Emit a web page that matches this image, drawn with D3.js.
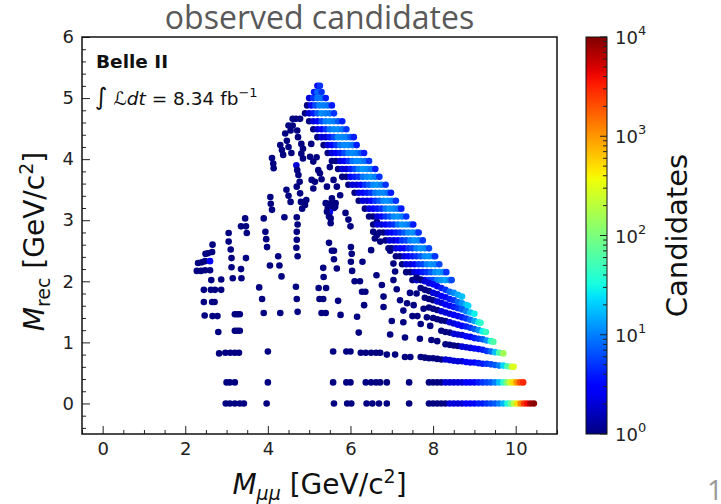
<!DOCTYPE html>
<html>
<head>
<meta charset="utf-8">
<script src="https://cdn.jsdelivr.net/npm/d3@7"></script>
<style>
  body { margin: 0; background: #fff; }
  svg { display: block; }
</style>
</head>
<body>
<svg id="chart" width="721" height="504"></svg>
<script>
// tick values
var xTicks = [0, 2, 4, 6, 8, 10];
var yTicks = [0, 1, 2, 3, 4, 5, 6];
var cbExponents = [0, 1, 2, 3, 4];

// isolated candidates [M_mumu, M_rec, count]
var isolated = [
  [2.31,2.30,1],[2.40,2.31,1],[2.48,2.33,1],[2.60,2.33,3],
  [2.28,2.17,1],[2.38,2.17,1],[2.48,2.18,1],[2.60,2.18,1],
  [2.49,2.45,1],[2.55,2.46,1],[2.65,2.48,1],[2.66,2.60,1],[2.63,2.02,1],
  [2.45,1.86,1],[2.62,1.86,1],[2.72,1.86,1],
  [2.45,1.66,1],[2.65,1.66,1],[2.71,1.66,1],
  [2.47,1.44,1],[2.66,1.43,1],[2.78,1.43,1],[2.80,1.17,1],
  [2.82,0.82,1],[2.97,0.83,1],[3.09,0.83,1],
  [3.00,0.345,1],[3.08,0.345,1],[3.20,0.345,1],
  [2.98,0,1],[3.08,0,1],[3.20,0,1],[3.32,0,1],[3.42,0,1],
  [2.87,2.03,1],[2.87,1.86,1],
  [3.05,2.79,1],[3.05,2.65,1],[3.10,2.52,1],[3.12,2.38,1],[3.12,2.23,1],[3.15,2.05,1],
  [3.35,2.90,1],[3.47,2.90,1],[3.45,3.03,1],[3.49,2.79,1],
  [3.35,2.20,1],[3.36,2.05,1],[3.47,2.38,1],
  [3.20,1.46,1],[3.26,1.46,1],[3.32,1.46,1],
  [3.20,1.19,1],[3.26,1.19,1],[3.32,1.19,1],
  [3.20,0.83,1],[3.30,0.83,1],
  [3.90,3.03,1],[3.94,2.81,1],[3.96,2.69,1],[3.98,2.56,1],
  [4.05,2.26,1],[4.28,2.26,1],[4.33,2.08,1],[4.25,2.41,1],
  [3.79,1.90,1],[3.86,1.71,1],[3.90,1.48,1],[4.30,1.48,1],
  [4.00,0.85,1],[4.00,0.345,1],[3.97,0,1],
  [4.06,3.38,1],[4.07,3.27,1],[4.10,3.17,1],
  [4.70,3.05,1],[4.72,2.93,1],[4.70,2.81,1],[4.70,2.68,1],[4.69,2.55,1],[4.72,2.41,1],
  [4.90,3.25,1],[4.93,3.33,1],
  [4.68,1.91,1],[4.70,1.71,1],[4.72,1.50,1],
  [5.40,3.28,1],[5.54,3.28,1],[5.64,3.28,1],[5.45,3.20,1],[5.60,3.20,1],[5.50,3.13,3],[5.52,3.03,1],
  [5.48,2.63,1],[5.55,2.50,1],[5.60,2.50,1],[5.60,2.36,1],[5.67,2.21,1],[5.34,2.22,1],
  [5.35,2.07,1],[5.41,1.89,1],[5.23,1.89,1],[5.25,1.71,1],[5.34,1.71,1],
  [5.30,1.48,1],[5.40,1.48,1],[5.70,1.68,1],[5.76,1.45,1],
  [5.58,0.85,1],[5.58,0.345,1],[5.60,0,1],
  [5.90,0.85,1],[6.00,0.85,1],[5.90,0.345,1],[6.00,0.345,1],[5.92,0,1],[6.02,0,1],
  [6.25,0.83,1],[6.37,0.83,1],[6.50,0.83,1],[6.62,0.83,1],[6.72,0.83,1],
  [6.88,0.80,1],[7.08,0.80,1],[7.32,0.76,1],[7.45,0.76,1],
  [6.37,0.345,1],[6.50,0.345,1],[6.62,0.345,1],[6.72,0.345,1],[6.88,0.345,1],[7.42,0.345,1],
  [6.39,0,1],[6.53,0,1],[6.69,0,1],[6.88,0,1],[7.42,0,1],
  [5.88,3.12,1],[5.95,3.01,1],[6.00,2.90,1],
  [6.01,2.56,1],[6.03,2.45,1],[6.01,2.32,1],[6.04,2.17,1],[6.10,2.00,1],[6.23,2.00,1],
  [6.28,1.83,1],[6.36,1.83,1],[6.33,1.61,1],[6.16,1.42,1],[6.20,1.16,1],
  [6.55,2.81,1],[6.64,2.76,1],[6.64,2.97,1],[6.63,2.10,1],
  [7.08,2.16,1],[7.04,2.02,1],[6.76,1.94,1],[7.12,1.87,1],[6.80,1.75,1],[7.20,1.69,1],
  [7.44,1.81,1],[7.60,1.80,1],[6.80,1.58,1],[7.28,1.52,1],[7.37,1.64,1],[7.53,1.61,1],
  [7.77,1.55,1],[7.50,1.43,1],[7.62,1.43,1],[7.85,1.41,1],
  [7.00,1.35,1],[7.28,1.33,1],[7.70,1.30,1],[7.93,1.27,1],
  [6.96,1.13,1],[7.32,1.08,1],[7.68,1.06,1],[7.96,1.04,1],[8.10,1.02,1],
  [6.50,2.51,1],[6.96,2.50,1],[6.29,2.32,1],[6.59,2.70,1],[6.72,2.65,1],[6.92,2.54,1],[7.04,2.29,1],
  [5.05,4.25,1],[5.18,4.03,1],
  [5.10,3.96,1],[5.22,3.82,1],[5.30,3.67,1],[5.06,3.66,1],[5.10,3.52,1],[5.50,3.87,1],
  [5.59,3.66,1],[5.67,3.55,1],[5.75,3.41,1],[5.55,3.36,1],[5.63,3.22,1],[5.48,3.06,1],[5.52,2.95,1],
  [4.60,4.66,1],[4.68,4.66,1],[4.78,4.66,1],[4.50,4.55,1],[4.60,4.55,1],
  [4.55,4.47,1],[4.71,4.47,1],[4.42,4.42,1],[4.46,4.30,1],[4.50,4.20,1],[4.57,4.10,1],
  [4.30,4.23,1],[4.34,4.15,1],[4.37,4.07,1],[4.10,4.02,1],[4.13,3.93,1],[4.14,3.85,1],
  [4.73,4.36,1],[4.81,4.25,1],[4.85,4.17,1],[4.81,4.09,1],[4.85,4.01,1],
  [4.69,3.90,2],[4.71,3.82,1],[4.74,3.74,1],[4.77,3.63,1],
  [5.02,4.04,1],[5.26,3.77,1],[5.14,3.63,1],[5.43,3.55,1],[5.47,3.27,1],[5.43,3.14,1],
  [4.78,3.44,1],[4.80,3.30,1],[4.83,3.19,1],[4.70,3.55,1],
  [4.45,3.50,1],[4.50,3.40,1],[4.55,3.30,1],[4.40,3.05,1]
];

// dense band along the kinematic edge, row by row
var bandRows = [
  {y: 5.20, x: [5.20,5.26], n: [3,5]},
  {y: 5.10, x: [5.12,5.20,5.30], n: [4,8,5]},
  {y: 5.00, x: [5.00,5.10,5.20,5.30,5.40], n: [2,5,9,9,4]},
  {y: 4.88, x: [4.95,5.05,5.15,5.25,5.35,5.45,5.55], n: [1,3,6,10,10,9,4]},
  {y: 4.75, x: [4.90,5.00,5.10,5.20,5.30,5.40,5.50,5.60], n: [1,2,4,7,11,10,9,5]},
  {y: 4.62, x: [5.00,5.10,5.20,5.30,5.40,5.50,5.60,5.70,5.80], n: [1,2,3,6,10,11,10,7,4]},
  {y: 4.49, x: [5.10,5.20,5.30,5.40,5.50,5.60,5.70,5.80,5.90], n: [1,2,3,5,9,11,11,9,5]},
  {y: 4.36, x: [5.20,5.30,5.40,5.50,5.60,5.70,5.80,5.90,6.00,6.08], n: [1,2,2,4,6,11,11,10,7,4]},
  {y: 4.23, x: [5.35,5.45,5.55,5.65,5.75,5.85,5.95,6.05,6.15], n: [1,2,3,5,9,11,11,9,4]},
  {y: 4.10, x: [5.45,5.55,5.65,5.75,5.85,5.95,6.05,6.15,6.25,6.33], n: [1,2,3,4,6,10,11,10,7,4]},
  {y: 3.97, x: [5.55,5.65,5.75,5.85,5.95,6.05,6.15,6.25,6.35,6.45], n: [1,1,2,3,5,9,11,11,9,5]},
  {y: 3.84, x: [5.70,5.80,5.90,6.00,6.10,6.20,6.30,6.40,6.50,6.60], n: [1,2,2,4,6,10,12,11,9,4]},
  {y: 3.71, x: [5.80,5.90,6.00,6.10,6.20,6.30,6.40,6.50,6.60,6.70], n: [1,1,3,4,5,9,11,12,10,5]},
  {y: 3.58, x: [5.95,6.05,6.15,6.25,6.35,6.45,6.55,6.65,6.75,6.85], n: [1,2,2,3,5,7,11,12,10,5]},
  {y: 3.45, x: [6.10,6.20,6.30,6.40,6.50,6.60,6.70,6.80,6.90,6.98], n: [1,2,3,4,5,9,11,11,9,4]},
  {y: 3.32, x: [6.20,6.30,6.40,6.50,6.60,6.70,6.80,6.90,7.00,7.10], n: [1,2,2,3,5,7,11,12,10,5]},
  {y: 3.19, x: [6.35,6.45,6.55,6.65,6.75,6.85,6.95,7.05,7.15,7.23], n: [1,2,3,4,5,9,12,11,9,4]},
  {y: 3.06, x: [6.45,6.55,6.65,6.75,6.85,6.95,7.05,7.15,7.25,7.35], n: [1,1,2,3,5,7,11,12,10,5]},
  {y: 2.93, x: [6.55,6.65,6.75,6.85,6.95,7.05,7.15,7.25,7.35,7.45,7.52], n: [1,2,2,3,4,5,9,12,11,9,4]},
  {y: 2.80, x: [6.70,6.80,6.90,7.00,7.10,7.20,7.30,7.40,7.50,7.60,7.65], n: [1,1,2,3,4,5,7,11,12,10,5]},
  {y: 2.67, x: [6.85,6.95,7.05,7.15,7.25,7.35,7.45,7.55,7.65,7.75], n: [1,2,2,3,5,6,10,12,11,5]},
  {y: 2.54, x: [7.00,7.10,7.20,7.30,7.40,7.50,7.60,7.70,7.80,7.90], n: [1,2,3,3,5,6,10,12,11,6]},
  {y: 2.41, x: [7.10,7.20,7.30,7.40,7.50,7.60,7.70,7.80,7.90,8.00,8.05], n: [1,1,2,3,4,5,7,11,12,10,5]},
  {y: 2.28, x: [7.25,7.35,7.45,7.55,7.65,7.75,7.85,7.95,8.05,8.15], n: [1,2,2,3,5,6,10,12,11,6]},
  {y: 2.15, x: [7.35,7.45,7.55,7.65,7.75,7.85,7.95,8.05,8.15,8.25,8.32], n: [1,1,2,3,4,5,7,11,13,11,5]},
  {y: 2.02, x: [7.50,7.60,7.70,7.80,7.90,8.00,8.10,8.20,8.30,8.40,8.45], n: [1,2,2,3,5,6,10,12,14,11,6]}
];

// sloping stripes below the band, [M_mumu, M_rec, count]
var stripes = [
  [[7.6,2.06,1],[7.7,2.03,1],[7.8,2.00,2],[7.9,1.97,2],[8.0,1.95,3],[8.1,1.92,3],[8.2,1.89,4],[8.3,1.86,5],[8.4,1.83,8],[8.5,1.81,11],[8.6,1.78,15],[8.7,1.75,18]],
  [[7.7,1.89,1],[7.8,1.86,1],[7.9,1.84,1],[8.0,1.81,2],[8.1,1.79,2],[8.2,1.76,3],[8.3,1.74,3],[8.4,1.71,4],[8.5,1.69,5],[8.6,1.66,8],[8.7,1.64,12],[8.8,1.61,18],[8.85,1.60,22]],
  [[7.8,1.73,1],[7.9,1.71,1],[8.0,1.69,1],[8.1,1.67,2],[8.2,1.65,2],[8.3,1.62,3],[8.4,1.60,3],[8.5,1.58,4],[8.6,1.56,5],[8.7,1.54,7],[8.8,1.51,10],[8.9,1.49,18],[9.0,1.47,28]],
  [[7.9,1.57,1],[8.0,1.55,1],[8.1,1.53,1],[8.2,1.51,2],[8.3,1.49,2],[8.4,1.47,2],[8.5,1.45,3],[8.6,1.43,3],[8.7,1.41,4],[8.8,1.39,5],[8.9,1.37,8],[9.0,1.35,14],[9.1,1.33,28],[9.15,1.32,40]],
  [[8.0,1.40,1],[8.1,1.38,1],[8.2,1.36,1],[8.3,1.35,1],[8.4,1.33,2],[8.5,1.31,2],[8.6,1.29,3],[8.7,1.27,3],[8.8,1.26,4],[8.9,1.24,5],[9.0,1.22,7],[9.1,1.20,12],[9.2,1.18,28],[9.28,1.17,45]],
  [[8.2,1.19,1],[8.3,1.17,1],[8.4,1.16,1],[8.5,1.14,2],[8.6,1.13,2],[8.7,1.12,2],[8.8,1.10,3],[8.9,1.09,3],[9.0,1.07,4],[9.1,1.06,5],[9.2,1.05,7],[9.3,1.03,12],[9.4,1.02,35],[9.46,1.01,60]],
  [[8.3,0.97,1],[8.4,0.96,1],[8.5,0.95,1],[8.6,0.94,1],[8.7,0.93,2],[8.8,0.92,2],[8.9,0.91,2],[9.0,0.90,3],[9.1,0.89,3],[9.2,0.88,4],[9.3,0.86,5],[9.4,0.85,8],[9.5,0.84,18],[9.6,0.83,60],[9.7,0.82,150]],
  [[7.7,0.76,1],[7.8,0.75,1],[7.9,0.74,1],[8.0,0.74,1],[8.1,0.73,1],[8.2,0.72,1],[8.3,0.72,2],[8.4,0.71,2],[8.5,0.70,2],[8.6,0.69,2],[8.7,0.69,2],[8.8,0.68,3],[8.9,0.67,3],[9.0,0.67,3],[9.1,0.66,4],[9.2,0.65,4],[9.3,0.65,5],[9.4,0.64,6],[9.5,0.63,7],[9.6,0.62,10],[9.7,0.62,22],[9.8,0.61,60],[9.9,0.60,200],[9.95,0.60,300]]
];

// the two flat rows at the bottom
var floorRows = [
  {y: 0.345,
   x: [7.90,8.00,8.10,8.20,8.30,8.40,8.50,8.60,8.70,8.80,8.90,9.00,9.10,9.20,9.30,9.40,9.50,9.60,9.70,9.78,9.86,9.94,10.02,10.10,10.18],
   n: [1,1,1,1,2,2,2,2,2,3,3,3,4,5,6,7,10,18,40,100,250,500,1000,2000,3000]},
  {y: 0,
   x: [7.90,8.00,8.10,8.20,8.30,8.40,8.50,8.60,8.70,8.80,8.90,9.00,9.10,9.20,9.30,9.40,9.50,9.60,9.70,9.80,9.88,9.96,10.04,10.12,10.20,10.28,10.36,10.44],
   n: [1,1,1,1,1,2,2,2,2,3,3,3,4,4,5,6,7,10,16,35,80,200,500,1200,2500,4000,7000,9000]}
];

function draw() {
    var svg = d3.select("#chart");
    var W = 721, H = 504;
    svg.append("rect").attr("width", W).attr("height", H).attr("fill", "#fff");

    var left = 82, right = 557, plotTop = 37, bottom = 434;
    var x = d3.scaleLinear().domain([-0.5, 11]).range([left, right]);
    var y = d3.scaleLinear().domain([-0.5, 6]).range([bottom, plotTop]);

    // matplotlib jet
    var jr = d3.scaleLinear().domain([0, 0.35, 0.66, 0.89, 1]).range([0, 0, 1, 1, 0.5]).clamp(true);
    var jg = d3.scaleLinear().domain([0, 0.125, 0.375, 0.64, 0.91, 1]).range([0, 0, 1, 1, 0, 0]).clamp(true);
    var jb = d3.scaleLinear().domain([0, 0.11, 0.34, 0.65, 1]).range([0.5, 1, 1, 0, 0]).clamp(true);
    function jet(t) {
        return d3.rgb(jr(t) * 255, jg(t) * 255, jb(t) * 255).formatHex();
    }
    var logT = d3.scaleLog().domain([1, 1e4]).range([0, 1]).clamp(true);
    function color(n) { return jet(logT(n)); }

    // flatten everything in drawing order
    var pts = isolated.slice();
    bandRows.forEach(function(r) {
        r.x.forEach(function(v, i) { pts.push([v, r.y, r.n[i]]); });
    });
    stripes.forEach(function(s) { pts = pts.concat(s); });
    floorRows.forEach(function(r) {
        r.x.forEach(function(v, i) { pts.push([v, r.y, r.n[i]]); });
    });

    svg.append("g").selectAll("circle")
        .data(pts)
        .enter().append("circle")
        .attr("cx", function(d) { return x(d[0]); })
        .attr("cy", function(d) { return y(d[1]); })
        .attr("r", 3.3)
        .attr("fill", function(d) { return color(d[2]); });

    // axes, ticks inside
    var tickFont = "'DejaVu Sans', sans-serif";
    function styleAxis(sel) {
        sel.select(".domain").remove();
        sel.selectAll("line").attr("stroke", "#222").attr("stroke-width", 1);
        sel.selectAll("text").attr("font-family", tickFont).attr("font-size", 18).attr("fill", "#222");
    }
    var xMinor = d3.range(-1, 23).map(function(i) { return i * 0.5; })
        .filter(function(v) { return v % 2 !== 0 && v >= -0.5 && v <= 11; });
    var yMinor = d3.range(-2, 31).map(function(i) { return +(i * 0.2).toFixed(1); })
        .filter(function(v) { return Math.abs(v - Math.round(v)) > 0.01 && v >= -0.5; });

    svg.append("g").attr("transform", "translate(0," + bottom + ")")
        .call(d3.axisBottom(x).tickValues(xTicks).tickSize(-8).tickPadding(8).tickFormat(d3.format("d")))
        .call(styleAxis);
    svg.append("g").attr("transform", "translate(0," + bottom + ")")
        .call(d3.axisBottom(x).tickValues(xMinor).tickSize(-4).tickFormat(""))
        .call(styleAxis);
    svg.append("g").attr("transform", "translate(" + left + ",0)")
        .call(d3.axisLeft(y).tickValues(yTicks).tickSize(-8).tickPadding(8).tickFormat(d3.format("d")))
        .call(styleAxis);
    svg.append("g").attr("transform", "translate(" + left + ",0)")
        .call(d3.axisLeft(y).tickValues(yMinor).tickSize(-4).tickFormat(""))
        .call(styleAxis);

    svg.append("rect")
        .attr("x", left).attr("y", plotTop)
        .attr("width", right - left).attr("height", bottom - plotTop)
        .attr("fill", "none").attr("stroke", "#111").attr("stroke-width", 1.5);

    // labels inside plot
    svg.append("text")
        .attr("x", 96).attr("y", 68)
        .attr("font-family", tickFont).attr("font-weight", "bold").attr("font-size", 18.5)
        .attr("fill", "#111")
        .text("Belle II");

    var lum = svg.append("text")
        .attr("x", 95).attr("y", 105)
        .attr("font-family", tickFont).attr("font-size", 18.5).attr("fill", "#111");
    lum.append("tspan").attr("font-size", 24).text("\u222B");
    lum.append("tspan").attr("dx", 6).attr("font-style", "italic").text("\u2112dt");
    lum.append("tspan").text(" = 8.34 fb");
    lum.append("tspan").attr("font-size", 13).attr("dy", -8).text("\u22121");

    // title
    svg.append("text")
        .attr("x", (left + right) / 2).attr("y", 29)
        .attr("text-anchor", "middle")
        .attr("font-family", "'Open Sans', sans-serif").attr("font-size", 32)
        .attr("fill", "#595959")
        .text("observed candidates");

    // axis titles
    var labFont = "'DejaVu Sans', sans-serif";
    var xl = svg.append("text")
        .attr("x", (left + right) / 2).attr("y", 494)
        .attr("text-anchor", "middle")
        .attr("font-family", labFont).attr("font-size", 28).attr("fill", "#111");
    xl.append("tspan").attr("font-style", "italic").text("M");
    xl.append("tspan").attr("font-style", "italic").attr("font-size", 19).attr("dy", 6).text("\u03BC\u03BC");
    xl.append("tspan").attr("dy", -6).text(" [GeV/c");
    xl.append("tspan").attr("font-size", 19).attr("dy", -11).text("2");
    xl.append("tspan").attr("dy", 11).text("]");

    var yl = svg.append("text")
        .attr("transform", "translate(44," + ((plotTop + bottom) / 2 + 6) + ") rotate(-90)")
        .attr("text-anchor", "middle")
        .attr("font-family", labFont).attr("font-size", 28).attr("fill", "#111");
    yl.append("tspan").attr("font-style", "italic").text("M");
    yl.append("tspan").attr("font-size", 19).attr("dy", 6).text("rec");
    yl.append("tspan").attr("dy", -6).text(" [GeV/c");
    yl.append("tspan").attr("font-size", 19).attr("dy", -11).text("2");
    yl.append("tspan").attr("dy", 11).text("]");

    // colour bar
    var cbX = 586, cbW = 21;
    var cb = d3.scaleLog().domain([1, 1e4]).range([bottom, plotTop]);
    var grad = svg.append("defs").append("linearGradient")
        .attr("id", "jetgrad").attr("x1", 0).attr("y1", 1).attr("x2", 0).attr("y2", 0);
    d3.range(0, 1.0001, 0.02).forEach(function(t) {
        grad.append("stop").attr("offset", t).attr("stop-color", jet(t));
    });
    svg.append("rect")
        .attr("x", cbX).attr("y", plotTop).attr("width", cbW).attr("height", bottom - plotTop)
        .attr("fill", "url(#jetgrad)").attr("stroke", "#111").attr("stroke-width", 1);

    var cbMinor = [];
    for (var e = 0; e < 4; e++) {
        for (var m = 2; m < 10; m++) cbMinor.push(m * Math.pow(10, e));
    }
    svg.append("g").selectAll("line").data(cbMinor).enter().append("line")
        .attr("x1", cbX + cbW - 4).attr("x2", cbX + cbW)
        .attr("y1", function(d) { return cb(d); }).attr("y2", function(d) { return cb(d); })
        .attr("stroke", "#222").attr("stroke-width", 1);
    svg.append("g").selectAll("line").data(cbExponents).enter().append("line")
        .attr("x1", cbX + cbW - 7).attr("x2", cbX + cbW)
        .attr("y1", function(d) { return cb(Math.pow(10, d)); }).attr("y2", function(d) { return cb(Math.pow(10, d)); })
        .attr("stroke", "#222").attr("stroke-width", 1);

    var cbl = svg.append("g").selectAll("text").data(cbExponents).enter().append("text")
        .attr("x", cbX + cbW + 8)
        .attr("y", function(d) { return cb(Math.pow(10, d)) + 7; })
        .attr("font-family", tickFont).attr("font-size", 18).attr("fill", "#222");
    cbl.append("tspan").text("10");
    cbl.append("tspan").attr("font-size", 13).attr("dy", -9).text(function(d) { return d; });

    svg.append("text")
        .attr("transform", "translate(687," + ((plotTop + bottom) / 2) + ") rotate(-90)")
        .attr("text-anchor", "middle")
        .attr("font-family", labFont).attr("font-size", 29).attr("fill", "#111")
        .text("Candidates");

    // page number peeking in at the corner
    svg.append("text")
        .attr("x", 707).attr("y", 500)
        .attr("font-family", "'Open Sans', sans-serif").attr("font-size", 28)
        .attr("fill", "#999")
        .text("1");
}
draw();
</script>
</body>
</html>
